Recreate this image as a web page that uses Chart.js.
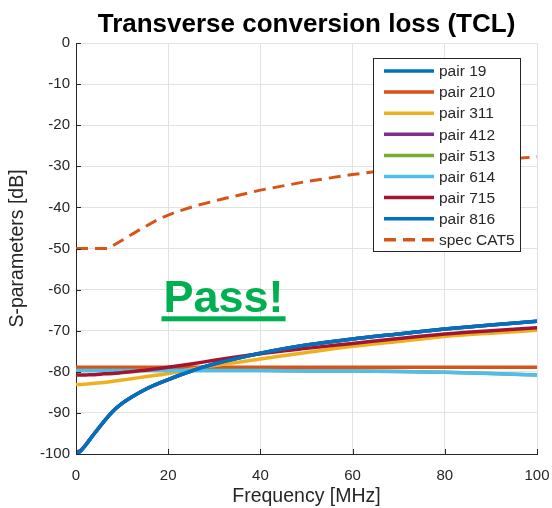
<!DOCTYPE html>
<html>
<head>
<meta charset="utf-8">
<script src="https://cdn.jsdelivr.net/npm/chart.js@4"></script>
<style>
  html, body { margin: 0; padding: 0; background: #fff; }
  #wrap { width: 552px; height: 508px; }
</style>
</head>
<body>
<div id="wrap"><canvas id="tcl"></canvas></div>
<script>
// frequencies [MHz] where the curves were read
const freq = [0, 1, 2, 3, 4, 6, 8, 10, 12, 15, 20, 25, 30, 40, 50, 60, 70, 80, 90, 100];

// TCL per pair [dB]
const pair19  = [-100, -99.3, -98, -96.5, -95, -92.2, -89.6, -87.7, -86.2, -84.3, -81.9, -79.8, -78.1, -75.5, -73.5, -72.0, -70.8, -69.6, -68.6, -67.7];
const pair210 = [-78.9, -78.9, -78.9, -78.9, -78.9, -78.9, -78.9, -78.9, -78.9, -78.9, -78.9, -78.9, -78.9, -78.9, -78.9, -78.9, -78.9, -78.9, -78.9, -78.9];
const pair311 = [-83.1, -83.1, -83.0, -82.9, -82.8, -82.6, -82.3, -82.0, -81.7, -81.2, -80.4, -79.4, -78.5, -76.9, -75.3, -73.8, -72.6, -71.4, -70.6, -69.9];
const pair412 = [-99.6, -99.1, -97.9, -96.4, -95, -92.2, -89.6, -87.7, -86.2, -84.3, -81.9, -79.8, -78.1, -75.5, -73.5, -72.0, -70.8, -69.6, -68.6, -67.7];
const pair513 = [-79.7, -79.7, -79.7, -79.7, -79.7, -79.7, -79.7, -79.7, -79.7, -79.7, -79.7, -79.7, -79.7, -79.7, -79.8, -79.8, -79.9, -80.1, -80.4, -80.8];
const pair614 = [-79.7, -79.7, -79.7, -79.7, -79.7, -79.7, -79.7, -79.7, -79.7, -79.7, -79.7, -79.7, -79.7, -79.7, -79.8, -79.8, -79.9, -80.1, -80.4, -80.8];
const pair715 = [-80.8, -80.8, -80.8, -80.7, -80.7, -80.5, -80.4, -80.2, -80.0, -79.6, -78.9, -78.1, -77.2, -75.6, -74.3, -73.1, -71.9, -70.8, -70.0, -69.3];
const pair816 = [-100, -99.3, -98, -96.5, -95, -92.2, -89.6, -87.7, -86.2, -84.3, -81.9, -79.8, -78.1, -75.5, -73.5, -72.0, -70.8, -69.6, -68.6, -67.7];

// spec limit CAT5
const specFreq = [0, 7, 10, 14, 18, 22, 26, 32, 40, 50, 60, 70, 80, 90, 100];
const specCat5 = [-50, -50, -48, -45.3, -42.8, -41, -39.6, -37.9, -35.8, -33.7, -32.0, -30.6, -29.4, -28.5, -27.7];

const xTicks = [0, 20, 40, 60, 80, 100];
const yTicks = [0, -10, -20, -30, -40, -50, -60, -70, -80, -90, -100];

const FONT = "'Liberation Sans', Arial, sans-serif";
const INK = "#262626";

const toPts = (xs, ys) => xs.map((x, i) => ({ x: x, y: ys[i] }));

const series = [
  { label: "pair 19",  data: pair19,  color: "#0072BD" },
  { label: "pair 210", data: pair210, color: "#D95319" },
  { label: "pair 311", data: pair311, color: "#EDB120" },
  { label: "pair 412", data: pair412, color: "#7E2F8E" },
  { label: "pair 513", data: pair513, color: "#77AC30" },
  { label: "pair 614", data: pair614, color: "#4DBEEE" },
  { label: "pair 715", data: pair715, color: "#A2142F" },
  { label: "pair 816", data: pair816, color: "#0072BD" }
];

// later series drawn on top (like matlab)
const datasets = series.map((s, i) => ({
  label: s.label,
  data: toPts(freq, s.data),
  borderColor: s.color,
  borderWidth: 3.5,
  pointRadius: 0,
  cubicInterpolationMode: "monotone",
  fill: false,
  order: -i
}));
datasets.push({
  label: "spec CAT5",
  data: toPts(specFreq, specCat5),
  borderColor: "#D95319",
  borderWidth: 3,
  borderDash: [12, 7],
  pointRadius: 0,
  tension: 0,
  fill: false,
  order: -series.length
});

// inward ticks, legend box and the "Pass!" note, drawn after the chart
const extras = {
  id: "extras",
  afterDraw(chart) {
    const c = chart.ctx;
    const xs = chart.scales.x, ys = chart.scales.y;
    const a = chart.chartArea;
    c.save();
    c.strokeStyle = INK;
    c.lineWidth = 1;
    c.beginPath();
    yTicks.forEach(v => {
      const y = Math.round(ys.getPixelForValue(v)) + 0.5;
      c.moveTo(a.left, y); c.lineTo(a.left + 5, y);
    });
    xTicks.forEach(v => {
      const x = Math.round(xs.getPixelForValue(v)) + 0.5;
      c.moveTo(x, a.bottom); c.lineTo(x, a.bottom - 5);
    });
    c.stroke();

    // Pass!
    const px = xs.getPixelForValue(32), py = ys.getPixelForValue(-65.4);
    c.fillStyle = "#00B050";
    c.font = "bold 45px " + FONT;
    c.textAlign = "center";
    c.textBaseline = "alphabetic";
    c.fillText("Pass!", px, py);
    const w = c.measureText("Pass!").width;
    c.fillRect(px - w / 2 - 2, py + 4.5, w + 4, 5);

    // legend
    const lx = 373.5, ly = 58.5, lw = 147, lh = 193;
    c.fillStyle = "#fff";
    c.fillRect(lx, ly, lw, lh);
    c.strokeStyle = INK;
    c.lineWidth = 1;
    c.strokeRect(lx, ly, lw, lh);
    c.font = "15.5px " + FONT;
    c.textAlign = "left";
    c.textBaseline = "middle";
    chart.data.datasets.forEach((ds, i) => {
      const y = 71 + i * 21.1;
      c.strokeStyle = ds.borderColor;
      c.lineWidth = 3.5;
      c.setLineDash(ds.borderDash || []);
      c.beginPath();
      c.moveTo(384, y); c.lineTo(434, y);
      c.stroke();
      c.setLineDash([]);
      c.fillStyle = INK;
      c.fillText(ds.label, 439, y + 1);
    });
    c.restore();
  }
};

new Chart(document.getElementById("tcl"), {
  type: "line",
  data: { datasets: datasets },
  plugins: [extras],
  options: {
    responsive: true,
    maintainAspectRatio: false,
    animation: false,
    layout: { padding: { left: 0, right: 15, top: 0, bottom: 0 } },
    plugins: {
      legend: { display: false },
      tooltip: { enabled: false },
      title: {
        display: true,
        fullSize: false,
        text: "Transverse conversion loss (TCL)",
        color: "#000",
        font: { family: FONT, size: 26, weight: "bold" },
        padding: { top: 9, bottom: 2.8 }
      }
    },
    scales: {
      x: {
        type: "linear",
        min: 0, max: 100,
        afterFit: s => { s.height = 54; s.paddingLeft = 0; s.paddingRight = 0; },
        afterBuildTicks: s => { s.ticks = xTicks.map(v => ({ value: v })); },
        ticks: { color: INK, font: { family: FONT, size: 15 }, padding: 13, maxRotation: 0 },
        grid: { color: "#e2e2e2", drawTicks: false },
        border: { color: INK, width: 1 },
        title: {
          display: true, text: "Frequency [MHz]", color: INK,
          font: { family: FONT, size: 19.5 }, padding: { top: 0, bottom: 0 }
        }
      },
      y: {
        type: "linear",
        min: -100, max: 0,
        afterFit: s => { s.width = 76; s.paddingTop = 0; s.paddingBottom = 0; },
        afterBuildTicks: s => { s.ticks = yTicks.slice().reverse().map(v => ({ value: v })); },
        ticks: { color: INK, font: { family: FONT, size: 15 }, padding: 6 },
        grid: { color: "#e2e2e2", drawTicks: false },
        border: { color: INK, width: 1 },
        title: {
          display: true, text: "S-parameters [dB]", color: INK,
          font: { family: FONT, size: 19.5 }, padding: { top: 6, bottom: 0 }
        }
      }
    }
  }
});
</script>
</body>
</html>
